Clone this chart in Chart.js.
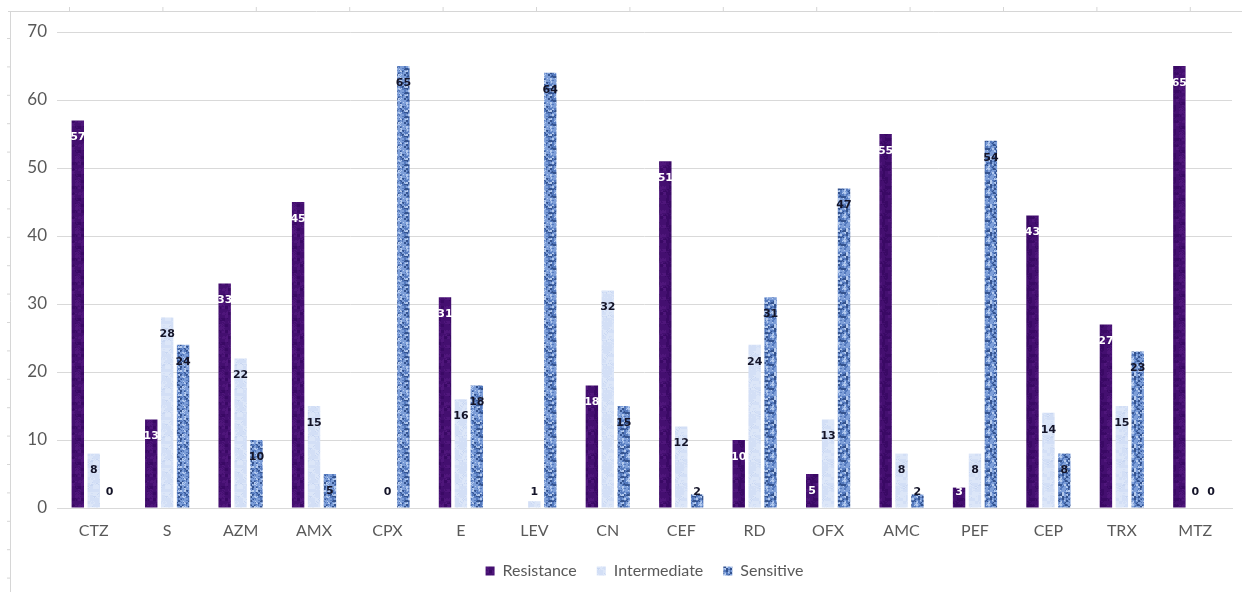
<!DOCTYPE html>
<html>
<head>
<meta charset="utf-8">
<script src="https://cdn.jsdelivr.net/npm/chart.js@4.4.1/dist/chart.umd.min.js"></script>
<style>
  body { margin: 0; background: #fff; }
  canvas { display: block; }
</style>
</head>
<body>
<canvas id="chart" width="1242" height="592"></canvas>
<script>
const categories = ["CTZ", "S", "AZM", "AMX", "CPX", "E", "LEV", "CN", "CEF", "RD", "OFX", "AMC", "PEF", "CEP", "TRX", "MTZ"];
const resistance = [57, 13, 33, 45, null, 31, null, 18, 51, 10, 5, 55, 3, 43, 27, 65];
const intermediate = [8, 28, 22, 15, 0, 16, 1, 32, 12, 24, 13, 8, 8, 14, 15, 0];
const sensitive = [0, 24, 10, 5, 65, 18, 64, 15, 2, 31, 47, 2, 54, 8, 23, 0];
const seriesNames = ["Resistance", "Intermediate", "Sensitive"];
const yMin = 0, yMax = 70, yStep = 10;

// small deterministic noise for the bar textures
function noise(x, y, seed) {
  const s = Math.sin(x * 12.9898 + y * 78.233 + seed * 37.719) * 43758.5453;
  return s - Math.floor(s);
}

function makePattern(size, cell, seed, pick) {
  const c = document.createElement("canvas");
  c.width = size; c.height = size;
  const g = c.getContext("2d");
  for (let y = 0; y < size; y++) {
    for (let x = 0; x < size; x++) {
      const a = noise(Math.floor(x / cell), Math.floor(y / cell), seed);
      const b = noise(x, y, seed + 7);
      g.fillStyle = pick(a * 0.75 + b * 0.25);
      g.fillRect(x, y, 1, 1);
    }
  }
  return g.createPattern(c, "repeat");
}

const ctx = document.getElementById("chart").getContext("2d");

const purpleFill = makePattern(24, 3, 1, (v) => v < 0.3 ? "#3a0965" : v < 0.75 ? "#440f70" : "#4f167b");
const paleFill = makePattern(24, 3, 2, (v) => v < 0.5 ? "#d3dff6" : v < 0.85 ? "#dce6f8" : "#c9d7f2");
const blueFill = makePattern(24, 2, 3, (v) => {
  if (v < 0.25) return "#34538f";
  if (v < 0.45) return "#5479bd";
  if (v < 0.72) return "#7d9ed8";
  return "#b4caee";
});

const frame = {
  id: "frame",
  beforeDraw(chart) {
    const c = chart.ctx;
    c.save();
    c.strokeStyle = "#d6d6d6";
    c.lineWidth = 1;
    c.beginPath();
    c.moveTo(8, 11.5); c.lineTo(1242, 11.5);
    c.moveTo(10.5, 11); c.lineTo(10.5, 592);
    for (let x = 69.5; x < 1242; x += 93.4) { c.moveTo(x, 7); c.lineTo(x, 11); }
    for (let y = 38.5; y < 592; y += 28.4) { c.moveTo(7, y); c.lineTo(10, y); }
    c.stroke();
    c.restore();
  }
};

const barLabels = {
  id: "barLabels",
  afterDatasetsDraw(chart) {
    const c = chart.ctx;
    const base = chart.scales.y.getPixelForValue(0);
    c.save();
    c.font = 'bold 11px "DejaVu Sans"';
    c.textAlign = "center";
    c.textBaseline = "middle";
    chart.data.datasets.forEach((ds, i) => {
      chart.getDatasetMeta(i).data.forEach((bar, j) => {
        const v = ds.data[j];
        if (v === null) return;
        c.fillStyle = i === 0 ? "#ffffff" : "#141428";
        c.fillText(String(v), bar.x, Math.min(bar.y + 17, base - 16));
      });
    });
    c.restore();
  }
};

new Chart(ctx, {
  type: "bar",
  data: {
    labels: categories,
    datasets: [
      { label: seriesNames[0], data: resistance, backgroundColor: purpleFill },
      { label: seriesNames[1], data: intermediate, backgroundColor: paleFill },
      { label: seriesNames[2], data: sensitive, backgroundColor: blueFill }
    ]
  },
  options: {
    responsive: false,
    animation: false,
    layout: { padding: { top: 32, right: 10, bottom: 3, left: 0 } },
    datasets: {
      bar: { categoryPercentage: 0.65, barPercentage: 0.78 }
    },
    plugins: {
      legend: {
        position: "bottom",
        fullSize: false,
        labels: {
          boxWidth: 9,
          boxHeight: 9,
          padding: 20,
          color: "#595959",
          font: { family: "Lato", size: 16 }
        }
      },
      tooltip: { enabled: false }
    },
    scales: {
      x: {
        grid: { display: false, drawTicks: false },
        border: { color: "#d9d9d9" },
        ticks: { color: "#595959", padding: 13, font: { family: "Lato", size: 16 } },
        afterFit(scale) { scale.height = 35; }
      },
      y: {
        min: yMin,
        max: yMax,
        ticks: { stepSize: yStep, color: "#595959", padding: 10, font: { family: "Lato", size: 17 } },
        grid: { color: "#d9d9d9", drawTicks: false },
        border: { display: false },
        afterFit(scale) { scale.width = 57; }
      }
    }
  },
  plugins: [frame, barLabels]
});
</script>
</body>
</html>
